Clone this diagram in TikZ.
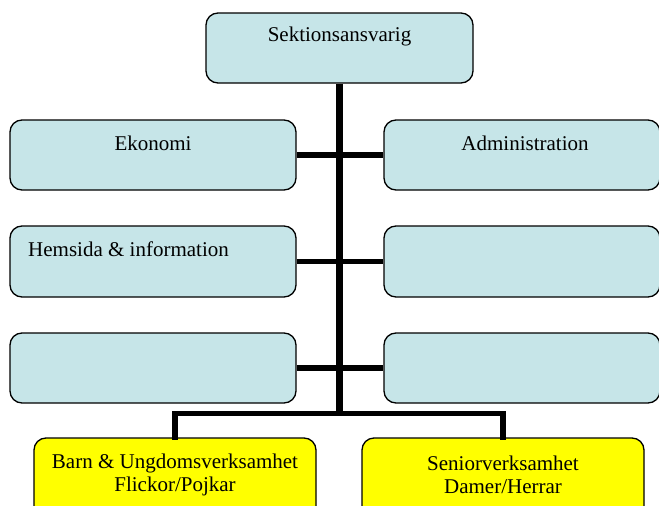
\documentclass[tikz,border=0pt]{standalone}
\usepackage{fontspec}
\setmainfont{Liberation Serif}
\definecolor{boxblue}{HTML}{C6E5E8}
\definecolor{boxyellow}{HTML}{FFFF00}
\begin{document}
\begin{tikzpicture}[x=1pt,y=-1pt,
  bluebox/.style={draw=black, line width=1.3pt, rounded corners=12pt, fill=boxblue, inner sep=0pt},
  yellowbox/.style={draw=black, line width=1.3pt, rounded corners=12pt, fill=boxyellow, inner sep=0pt},
  txt/.style={font=\fontsize{21}{23}\selectfont, inner sep=0pt, align=center},
  conn/.style={line width=5.5pt, draw=black}]
\useasboundingbox (0,0) rectangle (659,506);
% connectors
\coordinate (bar) at (339.5,413.5);
\node[bluebox, minimum width=267pt, minimum height=70pt] (top) at (339.5,48) {};
\node[bluebox, minimum width=286pt, minimum height=70pt] (l1) at (153,155) {};
\node[bluebox, minimum width=276pt, minimum height=70pt] (r1) at (522,155) {};
\node[bluebox, minimum width=286pt, minimum height=71pt] (l2) at (153,261.5) {};
\node[bluebox, minimum width=276pt, minimum height=71pt] (r2) at (522,261.5) {};
\node[bluebox, minimum width=286pt, minimum height=70pt] (l3) at (153,368) {};
\node[bluebox, minimum width=276pt, minimum height=70pt] (r3) at (522,368) {};
\node[yellowbox, minimum width=282pt, minimum height=80pt] (y1) at (175,478) {};
\node[yellowbox, minimum width=282pt, minimum height=80pt] (y2) at (503,478) {};
\draw[conn, line width=6.5pt] (top.south) -- (top.south |- bar);
\draw[conn] (l1.east) -- (r1.west);
\draw[conn] (l2.east) -- (r2.west);
\draw[conn] (l3.east) -- (r3.west);
\draw[conn, line cap=rect] (y1.north) -- (y1.north |- bar) -- (y2.north |- bar) -- (y2.north);
% texts
\node[txt] (tTop) at (339.5,36) {Sektionsansvarig};
\node[txt] (tEk) at (153,143) {Ekonomi};
\node[txt] (tAd) at (525,143) {Administration};
\node[txt, anchor=west] (tHem) at (28,249) {Hemsida \& information};
\node[txt] (tY1) at (175,474.5) {Barn \& Ungdomsverksamhet\\Flickor/Pojkar};
\node[txt] (tY2) at (503,474.5) {Seniorverksamhet\\Damer/Herrar};
\end{tikzpicture}
\end{document}
